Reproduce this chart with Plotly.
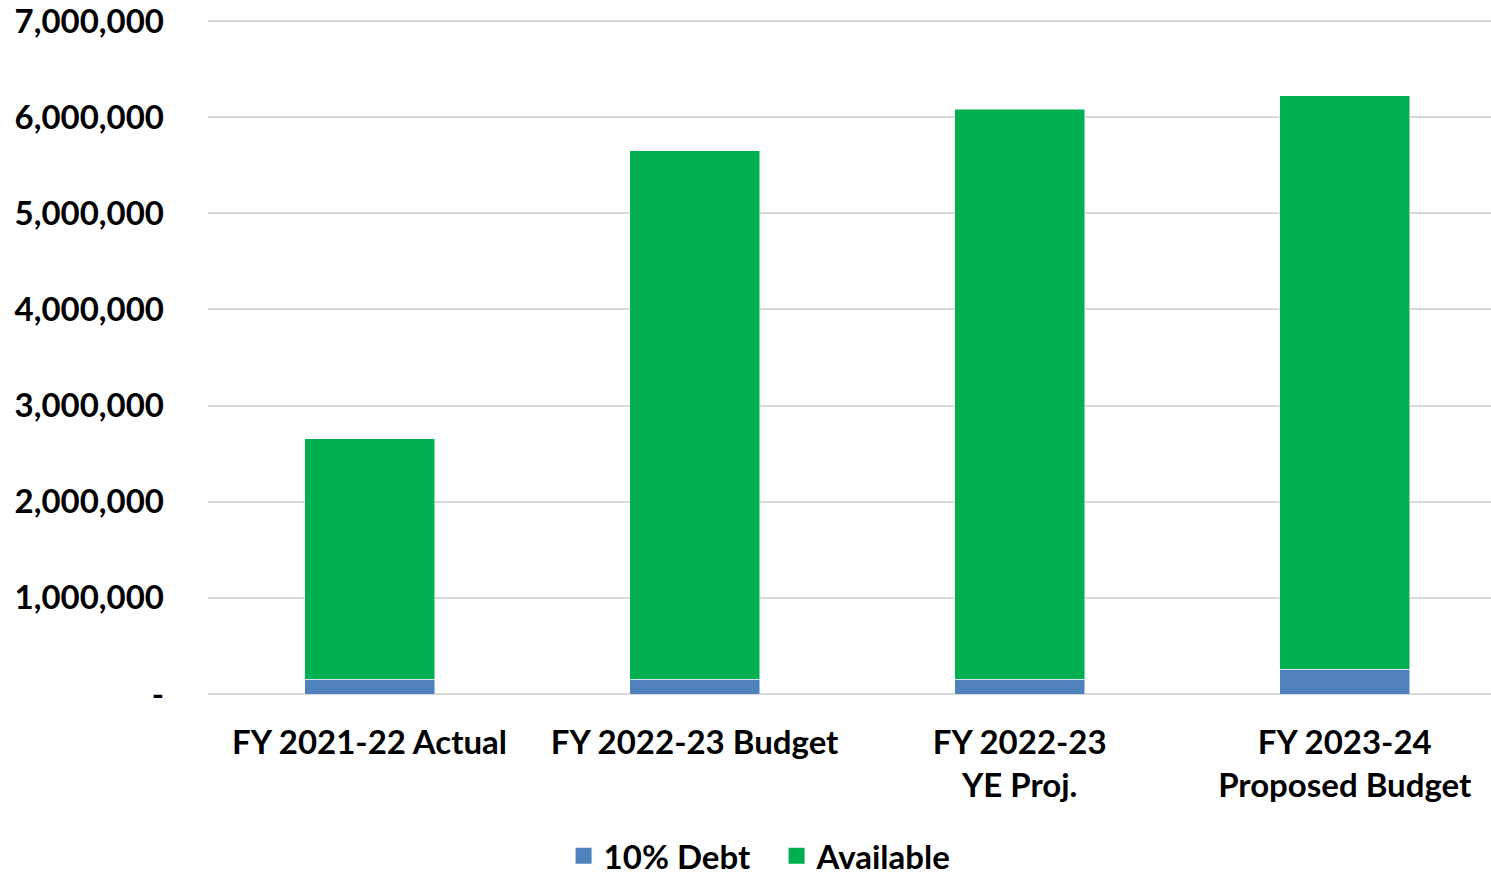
import plotly.graph_objects as go

categories = ["FY 2021-22 Actual", "FY 2022-23 Budget", "FY 2022-23<br>YE Proj.", "FY 2023-24<br>Proposed Budget"]
debt = [155000, 155000, 155000, 260000]
available = [2500000, 5495000, 5927000, 5960000]

tick_vals = [0, 1000000, 2000000, 3000000, 4000000, 5000000, 6000000, 7000000]
tick_text = ["-", "1,000,000", "2,000,000", "3,000,000", "4,000,000", "5,000,000", "6,000,000", "7,000,000"]

FONT = "Lato"
BLUE = "#4F81BD"
GREEN = "#00B050"
EDGE = dict(color="rgba(255,255,255,0.5)", width=1)

fig = go.Figure()
fig.add_trace(go.Bar(x=categories, y=debt, name="10% Debt", marker_color=BLUE,
                     marker_line=EDGE, width=0.4, showlegend=False))
fig.add_trace(go.Bar(x=categories, y=available, name="Available", marker_color=GREEN,
                     marker_line=EDGE, width=0.4, showlegend=False))

# legend swatches (bigger squares than the bar legend icon)
for name, color in [("10% Debt", BLUE), ("Available", GREEN)]:
    fig.add_trace(go.Scatter(x=[categories[0]], y=[None], mode="markers", name=name,
                             marker=dict(symbol="square", size=20, color=color)))

fig.update_layout(
    barmode="stack",
    width=1491,
    height=875,
    margin=dict(l=208, r=0, t=16, b=181),
    plot_bgcolor="white",
    paper_bgcolor="white",
    font=dict(family=FONT, size=33, color="black", weight="bold"),
    legend=dict(orientation="h", xref="container", yref="container", x=0.378, y=0.022,
                xanchor="left", yanchor="middle", font=dict(size=33, weight="bold"),
                itemwidth=30, traceorder="normal", itemsizing="trace", entrywidth=168),
)
# headroom above 7M so its gridline isn't dropped at the plot edge
fig.update_yaxes(range=[0, 7052000], tickvals=tick_vals, ticktext=tick_text,
                 showgrid=True, gridcolor="#d9d9d9", gridwidth=1.5,
                 zeroline=True, zerolinecolor="#d9d9d9", zerolinewidth=1.5,
                 showline=False, ticks="", ticklabelstandoff=43, ticklabeloverflow="allow",
                 tickfont=dict(size=33, weight="bold"))
fig.update_xaxes(range=[-0.497, 3.45], showline=False, ticks="", ticklabelstandoff=26,
                 tickfont=dict(size=33, weight="bold"))

fig.write_html("out.html", config={"displayModeBar": False},
               post_script="document.body.style.margin='0';")
